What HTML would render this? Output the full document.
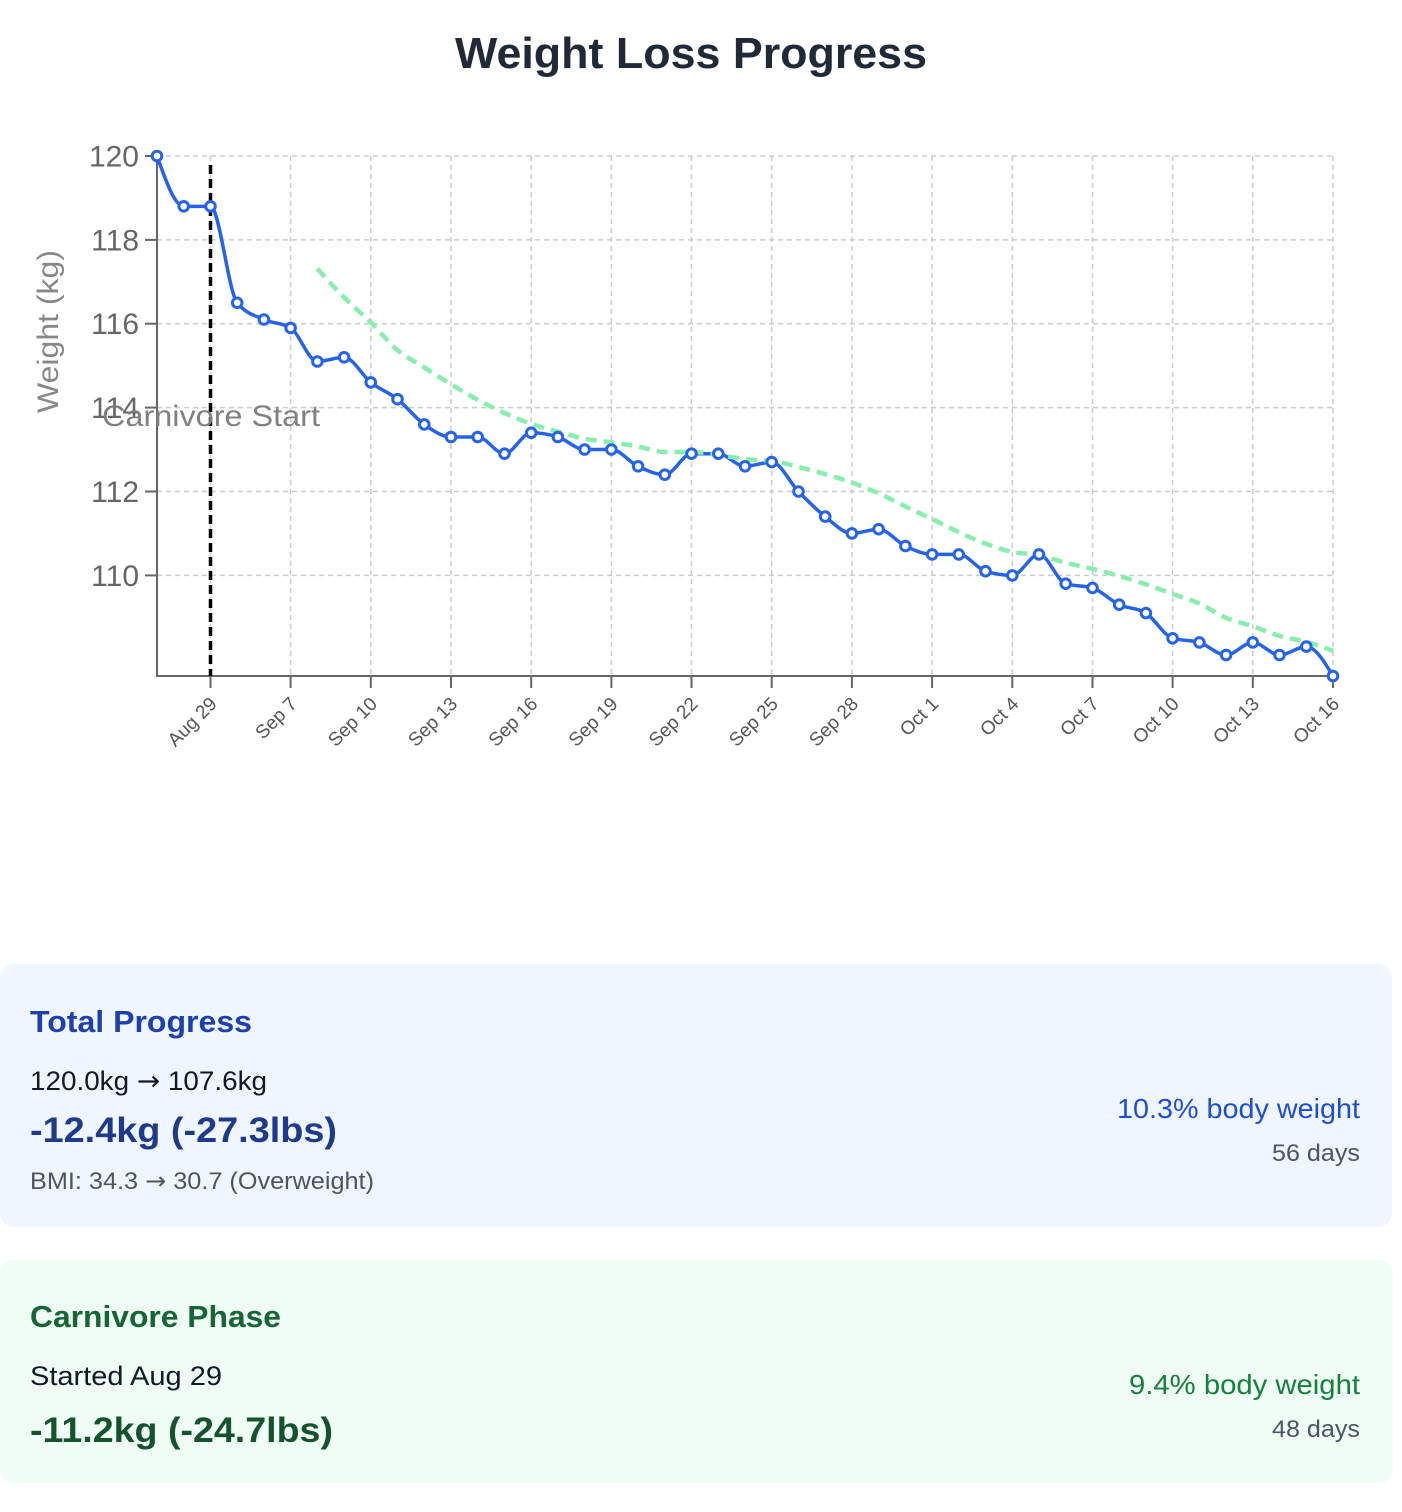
<!DOCTYPE html>
<html>
<head>
<meta charset="utf-8">
<style>
html,body{margin:0;padding:0;background:#fff;width:1402px;height:1512px;overflow:hidden}
svg{display:block;font-family:"Liberation Sans",Arial,sans-serif}
</style>
</head>
<body>
<svg id="chart" width="1402" height="1512" viewBox="0 0 1402 1512" xmlns="http://www.w3.org/2000/svg">
  <rect x="0" y="0" width="1402" height="1512" fill="#ffffff"/>

  <!-- Title -->
  <text x="455" y="68" font-size="44" font-weight="bold" fill="#1f2937" textLength="472" lengthAdjust="spacingAndGlyphs">Weight Loss Progress</text>

  <!-- Grid -->
  <g stroke="#cccccc" stroke-width="1.5" stroke-dasharray="5,4" fill="none">
    <line x1="157" y1="156" x2="1333" y2="156"/>
    <line x1="157" y1="239.9" x2="1333" y2="239.9"/>
    <line x1="157" y1="323.7" x2="1333" y2="323.7"/>
    <line x1="157" y1="407.6" x2="1333" y2="407.6"/>
    <line x1="157" y1="491.5" x2="1333" y2="491.5"/>
    <line x1="157" y1="575.4" x2="1333" y2="575.4"/>
    <line x1="210.5" y1="156" x2="210.5" y2="676"/>
    <line x1="290.6" y1="156" x2="290.6" y2="676"/>
    <line x1="370.8" y1="156" x2="370.8" y2="676"/>
    <line x1="451.0" y1="156" x2="451.0" y2="676"/>
    <line x1="531.2" y1="156" x2="531.2" y2="676"/>
    <line x1="611.4" y1="156" x2="611.4" y2="676"/>
    <line x1="691.5" y1="156" x2="691.5" y2="676"/>
    <line x1="771.7" y1="156" x2="771.7" y2="676"/>
    <line x1="851.9" y1="156" x2="851.9" y2="676"/>
    <line x1="932.1" y1="156" x2="932.1" y2="676"/>
    <line x1="1012.3" y1="156" x2="1012.3" y2="676"/>
    <line x1="1092.5" y1="156" x2="1092.5" y2="676"/>
    <line x1="1172.6" y1="156" x2="1172.6" y2="676"/>
    <line x1="1252.8" y1="156" x2="1252.8" y2="676"/>
    <line x1="1333" y1="156" x2="1333" y2="676"/>
  </g>

  <!-- Axes -->
  <path d="M157,156V676H1333" stroke="#666666" stroke-width="2" fill="none"/>
  <g stroke="#666666" stroke-width="2">
    <line x1="145" y1="156" x2="157" y2="156"/>
    <line x1="145" y1="239.9" x2="157" y2="239.9"/>
    <line x1="145" y1="323.7" x2="157" y2="323.7"/>
    <line x1="145" y1="407.6" x2="157" y2="407.6"/>
    <line x1="145" y1="491.5" x2="157" y2="491.5"/>
    <line x1="145" y1="575.4" x2="157" y2="575.4"/>
    <line x1="210.5" y1="676" x2="210.5" y2="688"/>
    <line x1="290.6" y1="676" x2="290.6" y2="688"/>
    <line x1="370.8" y1="676" x2="370.8" y2="688"/>
    <line x1="451.0" y1="676" x2="451.0" y2="688"/>
    <line x1="531.2" y1="676" x2="531.2" y2="688"/>
    <line x1="611.4" y1="676" x2="611.4" y2="688"/>
    <line x1="691.5" y1="676" x2="691.5" y2="688"/>
    <line x1="771.7" y1="676" x2="771.7" y2="688"/>
    <line x1="851.9" y1="676" x2="851.9" y2="688"/>
    <line x1="932.1" y1="676" x2="932.1" y2="688"/>
    <line x1="1012.3" y1="676" x2="1012.3" y2="688"/>
    <line x1="1092.5" y1="676" x2="1092.5" y2="688"/>
    <line x1="1172.6" y1="676" x2="1172.6" y2="688"/>
    <line x1="1252.8" y1="676" x2="1252.8" y2="688"/>
    <line x1="1333" y1="676" x2="1333" y2="688"/>
  </g>

  <!-- Y tick labels -->
  <g font-size="30" fill="#666666" text-anchor="end">
    <text x="139" y="166.5">120</text>
    <text x="139" y="250.4">118</text>
    <text x="139" y="334.2">116</text>
    <text x="139" y="418.1">114</text>
    <text x="139" y="502">112</text>
    <text x="139" y="585.9">110</text>
  </g>

  <!-- X tick labels -->
  <g font-size="19" fill="#555555" text-anchor="end">
    <text transform="translate(218,705) rotate(-45)">Aug 29</text>
    <text transform="translate(298.1,705) rotate(-45)">Sep 7</text>
    <text transform="translate(378.3,705) rotate(-45)">Sep 10</text>
    <text transform="translate(458.5,705) rotate(-45)">Sep 13</text>
    <text transform="translate(538.7,705) rotate(-45)">Sep 16</text>
    <text transform="translate(618.9,705) rotate(-45)">Sep 19</text>
    <text transform="translate(699,705) rotate(-45)">Sep 22</text>
    <text transform="translate(779.2,705) rotate(-45)">Sep 25</text>
    <text transform="translate(859.4,705) rotate(-45)">Sep 28</text>
    <text transform="translate(939.6,705) rotate(-45)">Oct 1</text>
    <text transform="translate(1019.8,705) rotate(-45)">Oct 4</text>
    <text transform="translate(1100,705) rotate(-45)">Oct 7</text>
    <text transform="translate(1180.1,705) rotate(-45)">Oct 10</text>
    <text transform="translate(1260.3,705) rotate(-45)">Oct 13</text>
    <text transform="translate(1340.5,705) rotate(-45)">Oct 16</text>
  </g>

  <!-- Y axis title -->
  <text transform="translate(58,331.5) rotate(-90)" font-size="30" fill="#888888" text-anchor="middle" textLength="163" lengthAdjust="spacingAndGlyphs">Weight (kg)</text>

  <!-- Carnivore start marker -->
  <line x1="210.5" y1="165" x2="210.5" y2="676" stroke="#000000" stroke-width="3.5" stroke-dasharray="9,5"/>

  <!-- Weight line -->
  <path id="wline" fill="none" stroke="#2563eb" stroke-width="3.5" stroke-linejoin="round" d="M157,156L183.7,206.3L210.5,206.3L237.2,302.8L263.9,319.5L290.6,327.9L317.4,361.5L344.1,357.3L370.8,382.4L397.5,399.2L424.3,424.4L451,437L477.7,437L504.5,453.7L531.2,432.8L557.9,437L584.6,449.5L611.4,449.5L638.1,466.3L664.8,474.7L691.5,453.7L718.3,453.7L745,466.3L771.7,462.1L798.5,491.5L825.2,516.6L851.9,533.4L878.6,529.2L905.4,546L932.1,554.4L958.8,554.4L985.5,571.2L1012.3,575.4L1039,554.4L1065.7,583.7L1092.5,587.9L1119.2,604.7L1145.9,613.1L1172.6,638.3L1199.4,642.4L1226.1,655L1252.8,642.4L1279.5,655L1306.3,646.6L1333,676"/>

  <!-- Moving average line -->
  <path id="maline" fill="none" stroke="#86efac" stroke-width="4.5" stroke-dasharray="11,7" d="M317.4,268.8L344.1,297.3L370.8,322.5L397.5,350.2L424.3,367.4L451,384.1L477.7,399.6L504.5,413.1L531.2,424L557.9,431.5L584.6,438.6L611.4,442.4L638.1,446.6L664.8,452.1L691.5,452.1L718.3,455L745,459.2L771.7,460.9L798.5,466.7L825.2,474.3L851.9,482.7L878.6,493.2L905.4,506.6L932.1,519.2L958.8,532.2L985.5,543.5L1012.3,551.9L1039,554.8L1065.7,562.8L1092.5,568.6L1119.2,575.8L1145.9,584.2L1172.6,593.8L1199.4,603.4L1226.1,617.7L1252.8,626.1L1279.5,635.7L1306.3,642L1333,650.8"/>

  <!-- Points -->
  <g fill="#ffffff" stroke="#2563eb" stroke-width="3">
    <circle cx="157" cy="156" r="4.8"/>
    <circle cx="183.7" cy="206.3" r="4.8"/>
    <circle cx="210.5" cy="206.3" r="4.8"/>
    <circle cx="237.2" cy="302.8" r="4.8"/>
    <circle cx="263.9" cy="319.5" r="4.8"/>
    <circle cx="290.6" cy="327.9" r="4.8"/>
    <circle cx="317.4" cy="361.5" r="4.8"/>
    <circle cx="344.1" cy="357.3" r="4.8"/>
    <circle cx="370.8" cy="382.4" r="4.8"/>
    <circle cx="397.5" cy="399.2" r="4.8"/>
    <circle cx="424.3" cy="424.4" r="4.8"/>
    <circle cx="451" cy="437" r="4.8"/>
    <circle cx="477.7" cy="437" r="4.8"/>
    <circle cx="504.5" cy="453.7" r="4.8"/>
    <circle cx="531.2" cy="432.8" r="4.8"/>
    <circle cx="557.9" cy="437" r="4.8"/>
    <circle cx="584.6" cy="449.5" r="4.8"/>
    <circle cx="611.4" cy="449.5" r="4.8"/>
    <circle cx="638.1" cy="466.3" r="4.8"/>
    <circle cx="664.8" cy="474.7" r="4.8"/>
    <circle cx="691.5" cy="453.7" r="4.8"/>
    <circle cx="718.3" cy="453.7" r="4.8"/>
    <circle cx="745" cy="466.3" r="4.8"/>
    <circle cx="771.7" cy="462.1" r="4.8"/>
    <circle cx="798.5" cy="491.5" r="4.8"/>
    <circle cx="825.2" cy="516.6" r="4.8"/>
    <circle cx="851.9" cy="533.4" r="4.8"/>
    <circle cx="878.6" cy="529.2" r="4.8"/>
    <circle cx="905.4" cy="546" r="4.8"/>
    <circle cx="932.1" cy="554.4" r="4.8"/>
    <circle cx="958.8" cy="554.4" r="4.8"/>
    <circle cx="985.5" cy="571.2" r="4.8"/>
    <circle cx="1012.3" cy="575.4" r="4.8"/>
    <circle cx="1039" cy="554.4" r="4.8"/>
    <circle cx="1065.7" cy="583.7" r="4.8"/>
    <circle cx="1092.5" cy="587.9" r="4.8"/>
    <circle cx="1119.2" cy="604.7" r="4.8"/>
    <circle cx="1145.9" cy="613.1" r="4.8"/>
    <circle cx="1172.6" cy="638.3" r="4.8"/>
    <circle cx="1199.4" cy="642.4" r="4.8"/>
    <circle cx="1226.1" cy="655" r="4.8"/>
    <circle cx="1252.8" cy="642.4" r="4.8"/>
    <circle cx="1279.5" cy="655" r="4.8"/>
    <circle cx="1306.3" cy="646.6" r="4.8"/>
    <circle cx="1333" cy="676" r="4.8"/>
  </g>

  <!-- Annotation label -->
  <text x="102" y="426" font-size="30" fill="#808080" textLength="218" lengthAdjust="spacingAndGlyphs">Carnivore Start</text>

  <!-- Card 1 -->
  <rect x="0" y="964" width="1392" height="263" rx="14" ry="14" fill="#eff6ff"/>
  <text x="30" y="1032" font-size="31" font-weight="bold" fill="#1e40af" textLength="222" lengthAdjust="spacingAndGlyphs">Total Progress</text>
  <text x="30" y="1090" font-size="27" fill="#111827" textLength="237" lengthAdjust="spacingAndGlyphs">120.0kg <tspan font-family="DejaVu Sans, sans-serif">→</tspan> 107.6kg</text>
  <text x="30" y="1142" font-size="35" font-weight="bold" fill="#1e3a8a" textLength="307" lengthAdjust="spacingAndGlyphs">-12.4kg (-27.3lbs)</text>
  <text x="30" y="1189" font-size="24" fill="#4b5563" textLength="344" lengthAdjust="spacingAndGlyphs">BMI: 34.3 <tspan font-family="DejaVu Sans, sans-serif">→</tspan> 30.7 (Overweight)</text>
  <text x="1117" y="1118" font-size="28" fill="#1d4ed8" textLength="243" lengthAdjust="spacingAndGlyphs">10.3% body weight</text>
  <text x="1272" y="1161" font-size="24" fill="#4b5563" textLength="88" lengthAdjust="spacingAndGlyphs">56 days</text>

  <!-- Card 2 -->
  <rect x="0" y="1260" width="1393" height="223" rx="14" ry="14" fill="#f0fdf4"/>
  <text x="30" y="1327" font-size="31" font-weight="bold" fill="#166534" textLength="251" lengthAdjust="spacingAndGlyphs">Carnivore Phase</text>
  <text x="30" y="1385" font-size="27" fill="#111827" textLength="192" lengthAdjust="spacingAndGlyphs">Started Aug 29</text>
  <text x="30" y="1442" font-size="35" font-weight="bold" fill="#14532d" textLength="303" lengthAdjust="spacingAndGlyphs">-11.2kg (-24.7lbs)</text>
  <text x="1129" y="1394" font-size="28" fill="#15803d" textLength="231" lengthAdjust="spacingAndGlyphs">9.4% body weight</text>
  <text x="1272" y="1437" font-size="24" fill="#4b5563" textLength="88" lengthAdjust="spacingAndGlyphs">48 days</text>
</svg>
<script>
(function(){
  var w=[120.0,118.8,118.8,116.5,116.1,115.9,115.1,115.2,114.6,114.2,113.6,113.3,113.3,112.9,113.4,113.3,113.0,113.0,112.6,112.4,112.9,112.9,112.6,112.7,112.0,111.4,111.0,111.1,110.7,110.5,110.5,110.1,110.0,110.5,109.8,109.7,109.3,109.1,108.5,108.4,108.1,108.4,108.1,108.3,107.6];
  function X(i){return 157+i*1176/44;}
  function Y(v){return 156+(120-v)*520/12.4;}
  function sgn(v){return v<0?-1:1;}
  function mono(p){
    var n=p.length,m=new Array(n),i;
    if(n<3){return "M"+p.map(function(q){return q[0].toFixed(2)+","+q[1].toFixed(2);}).join("L");}
    for(i=1;i<n-1;i++){
      var h0=p[i][0]-p[i-1][0],h1=p[i+1][0]-p[i][0];
      var s0=(p[i][1]-p[i-1][1])/h0,s1=(p[i+1][1]-p[i][1])/h1;
      var pp=(s0*h1+s1*h0)/(h0+h1);
      m[i]=(sgn(s0)+sgn(s1))*Math.min(Math.abs(s0),Math.abs(s1),0.5*Math.abs(pp))||0;
    }
    var h=p[1][0]-p[0][0];
    m[0]=(3*(p[1][1]-p[0][1])/h-m[1])/2;
    h=p[n-1][0]-p[n-2][0];
    m[n-1]=(3*(p[n-1][1]-p[n-2][1])/h-m[n-2])/2;
    var d="M"+p[0][0].toFixed(2)+","+p[0][1].toFixed(2);
    for(i=0;i<n-1;i++){
      var dx=(p[i+1][0]-p[i][0])/3;
      d+="C"+(p[i][0]+dx).toFixed(2)+","+(p[i][1]+dx*m[i]).toFixed(2)+","+(p[i+1][0]-dx).toFixed(2)+","+(p[i+1][1]-dx*m[i+1]).toFixed(2)+","+p[i+1][0].toFixed(2)+","+p[i+1][1].toFixed(2);
    }
    return d;
  }
  try{
    var pts=[],i;
    for(i=0;i<w.length;i++)pts.push([X(i),Y(w[i])]);
    document.getElementById("wline").setAttribute("d",mono(pts));
    var ma=[];
    for(i=6;i<w.length;i++){
      var s=0;for(var j=i-6;j<=i;j++)s+=w[j];
      ma.push([X(i),Y(s/7)]);
    }
    document.getElementById("maline").setAttribute("d",mono(ma));
  }catch(e){}
})();
</script>
</body>
</html>
